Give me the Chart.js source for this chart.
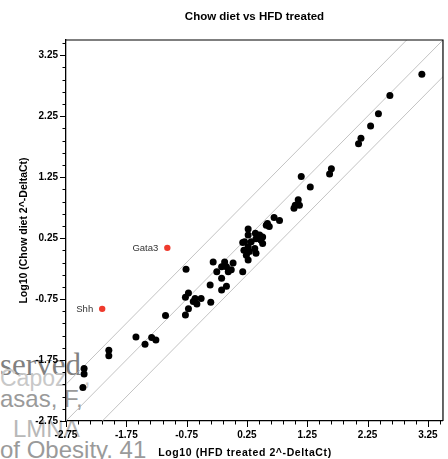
<!DOCTYPE html>
<html><head><meta charset="utf-8">
<script src="https://cdn.jsdelivr.net/npm/chart.js@4"></script>
<style>
html,body{margin:0;padding:0;background:#fff;}
#wrap{position:relative;width:448px;height:459px;overflow:hidden;background:#fff;}
.wm{position:absolute;white-space:nowrap;line-height:1;font-family:"Liberation Sans",Arial,sans-serif;font-size:24px;}
canvas{position:absolute;left:0;top:0;}
</style></head><body>
<div id="wrap">
<div class="wm" style="left:0;top:349px;font-family:'Liberation Serif','Times New Roman',serif;font-size:31px;color:#808080;">served.</div>
<div class="wm" style="left:0;top:367px;font-size:23px;color:#c8c8c8;">Capoz</div>
<div class="wm" style="left:84px;top:366px;font-size:23px;color:#c8c8c8;">,</div>
<div class="wm" style="left:0;top:387px;color:#9a9a9a;">asas, F,</div>
<div class="wm" style="left:13px;top:417px;color:#b8b8b8;">LMNA</div>
<div class="wm" style="left:0;top:438px;color:#9a9a9a;">of Obesity. 41</div>
<canvas id="c" width="448" height="459"></canvas>
</div>
<script>
// ---- data ----
const titleText = 'Chow diet vs HFD treated';
const xTitle = 'Log10 (HFD treated 2^-DeltaCt)';
const yTitle = 'Log10 (Chow diet 2^-DeltaCt)';
const tickLabels = ['-2.75','-1.75','-0.75','0.25','1.25','2.25','3.25'];
const axisMin = -2.75;
const axisMax = 3.5;
const minorStep = 0.2;

const hfdX = [3.15,2.62,2.43,2.30,2.14,2.10,1.65,1.62,1.15,1.30,1.10,1.05,1.12,1.03,
  0.79,0.70,0.57,0.62,0.59,0.27,0.46,0.48,0.51,0.40,0.32,0.21,0.27,0.38,0.20,0.29,0.24,0.40,0.27,0.18,
  0.39,0.51,0.27,0.18,0.02,-0.12,-0.09,-0.31,-0.06,-0.25,-0.17,-0.09,-0.17,-0.36,-0.17,-0.01,
  -0.76,-0.72,-0.77,-0.61,-0.51,-0.64,-0.58,-0.35,-0.72,-0.77,-1.10,
  -1.59,-1.44,-1.33,-1.26,-2.04,-2.04,-2.45,-2.45,-2.47];
const chowY = [2.94,2.59,2.29,2.09,1.89,1.80,1.39,1.30,1.26,1.09,0.88,0.79,0.79,0.74,
  0.54,0.59,0.46,0.44,0.49,0.40,0.30,0.22,0.16,0.24,0.19,0.19,0.11,0.08,0.05,0.03,-0.03,0.00,-0.11,-0.30,
  0.33,0.27,0.30,0.18,-0.16,-0.14,-0.22,-0.14,-0.30,-0.30,-0.41,-0.54,-0.60,-0.52,-0.22,-0.27,
  -0.26,-0.65,-0.72,-0.74,-0.74,-0.79,-0.83,-0.80,-0.91,-1.01,-1.02,
  -1.37,-1.49,-1.38,-1.42,-1.59,-1.68,-1.89,-1.98,-2.20];

const redGenes = ['Gata3','Shh'];
const redX = [-1.07,-2.15];
const redY = [0.09,-0.91];

const refOffsets = [Math.log10(4), 0, -Math.log10(4)];
const refLineX = [-3.5, 4.5];

// ---- build ----
const tickValues = [];
for (let k = 0; ; k++) {
  const v = Math.round((axisMin + k * minorStep) * 100) / 100;
  if (v > axisMax + 1e-9) break;
  tickValues.push(v);
}
const isMajor = v => tickLabels.includes(v.toFixed(2));

const datasets = [];
refOffsets.forEach(off => {
  datasets.push({
    type: 'line',
    data: refLineX.map(x => ({x: x, y: x + off})),
    borderColor: '#b4b4b4', borderWidth: 0.8, pointRadius: 0, fill: false, order: 3
  });
});
datasets.push({
  type: 'scatter',
  data: hfdX.map((x, i) => ({x: x, y: chowY[i]})),
  backgroundColor: '#000', borderColor: '#000', borderWidth: 0, pointRadius: 3.5, order: 2
});
datasets.push({
  type: 'scatter',
  data: redX.map((x, i) => ({x: x, y: redY[i]})),
  backgroundColor: '#ef3a2d', borderColor: '#ef3a2d', borderWidth: 0, pointRadius: 3.2, order: 1
});

const FONT = "'Liberation Sans', Arial, sans-serif";

const tickMarks = {
  id: 'tickMarks',
  afterDraw(chart) {
    const ctx = chart.ctx, ca = chart.chartArea;
    ctx.save();
    ctx.strokeStyle = '#000';
    ctx.lineWidth = 1;
    const xs = chart.scales.x, ys = chart.scales.y;
    xs.ticks.forEach(t => {
      const p = Math.round(xs.getPixelForValue(t.value)) + 0.5;
      const len = isMajor(t.value) ? 6 : 3.5;
      ctx.beginPath(); ctx.moveTo(p, ca.bottom); ctx.lineTo(p, ca.bottom + len); ctx.stroke();
    });
    ys.ticks.forEach(t => {
      const p = Math.round(ys.getPixelForValue(t.value)) + 0.5;
      const len = isMajor(t.value) ? 6 : 3.5;
      ctx.beginPath(); ctx.moveTo(ca.left, p); ctx.lineTo(ca.left - len, p); ctx.stroke();
    });
    ctx.lineWidth = 1.2;
    ctx.beginPath();
    ctx.moveTo(ca.left, ca.top); ctx.lineTo(ca.right, ca.top); ctx.lineTo(ca.right, ca.bottom);
    ctx.stroke();
    // x axis title
    ctx.fillStyle = '#000';
    ctx.font = 'bold 10.5px ' + FONT;
    if ('letterSpacing' in ctx) ctx.letterSpacing = '0.6px';
    ctx.textAlign = 'center';
    ctx.textBaseline = 'middle';
    ctx.fillText(xTitle, 245, 453);
    ctx.restore();
  }
};

const geneLabels = {
  id: 'geneLabels',
  afterDatasetsDraw(chart) {
    const ctx = chart.ctx;
    const meta = chart.getDatasetMeta(datasets.length - 1);
    ctx.save();
    ctx.font = '9.5px ' + FONT;
    ctx.fillStyle = '#333';
    ctx.textAlign = 'right';
    ctx.textBaseline = 'middle';
    meta.data.forEach((el, i) => {
      ctx.fillText(redGenes[i], el.x - 9, el.y + 1);
    });
    ctx.restore();
  }
};

new Chart(document.getElementById('c'), {
  data: { datasets: datasets },
  options: {
    responsive: false, animation: false, devicePixelRatio: 1,
    layout: { padding: { left: 0, right: 2, top: 0, bottom: 0 } },
    plugins: {
      legend: { display: false },
      tooltip: { enabled: false },
      title: {
        display: true, text: titleText, color: '#000', fullSize: false,
        font: { family: FONT, size: 11.5, weight: 'bold', lineHeight: 1.2 },
        padding: { top: 10, bottom: 16.2 }
      }
    },
    scales: {
      x: {
        type: 'linear', min: axisMin, max: axisMax,
        afterBuildTicks: s => { s.ticks = tickValues.map(v => ({value: v})); },
        afterFit: s => { s.height = 38; },
        ticks: {
          autoSkip: false, maxRotation: 0, padding: 8, color: '#000',
          font: { family: FONT, size: 10, weight: 'bold' },
          callback: v => isMajor(v) ? v.toFixed(2) : ''
        },
        grid: { display: true, drawOnChartArea: false, drawTicks: false },
        border: { display: true, color: '#000', width: 1.3 },
        title: { display: false, text: xTitle }
      },
      y: {
        type: 'linear', min: axisMin, max: axisMax,
        afterBuildTicks: s => { s.ticks = tickValues.map(v => ({value: v})); },
        afterFit: s => { s.width = 66; },
        ticks: {
          autoSkip: false, padding: 8, color: '#000',
          font: { family: FONT, size: 10, weight: 'bold' },
          callback: v => isMajor(v) ? v.toFixed(2) : ''
        },
        grid: { display: true, drawOnChartArea: false, drawTicks: false },
        border: { display: true, color: '#000', width: 1.3 },
        title: { display: true, text: yTitle, color: '#000',
          font: { family: FONT, size: 10.5, weight: 'bold', lineHeight: 1.2 },
          padding: { top: 17.7, bottom: 0 } }
      }
    }
  },
  plugins: [tickMarks, geneLabels]
});
</script>
</body></html>
